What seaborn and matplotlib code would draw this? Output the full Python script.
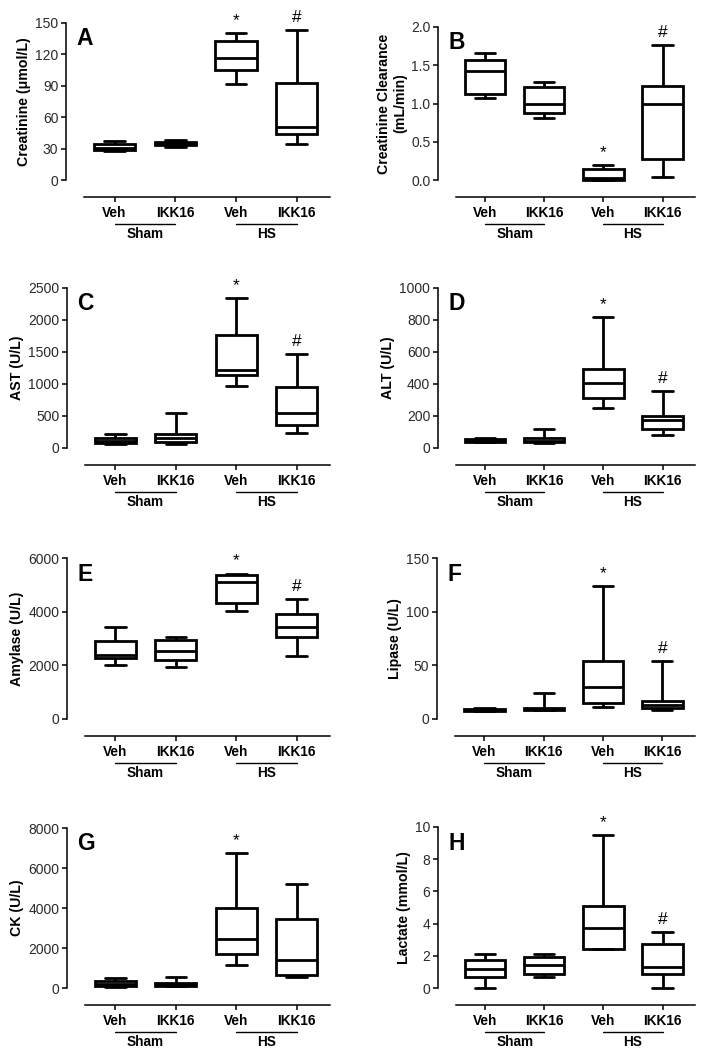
import numpy as np
import pandas as pd
import matplotlib
matplotlib.use("Agg")
import matplotlib.pyplot as plt
from matplotlib.ticker import FormatStrFormatter
from matplotlib.transforms import offset_copy
import seaborn as sns

# categories on the x axis and the two group labels underneath
treatments = ["Veh", "IKK16", "Veh", "IKK16"]
groups = ["Sham", "HS"]

# each box as (min, q1, median, q3, max)
creatinine = [[28, 29, 31, 34, 37.5], [32, 33, 35, 36.5, 38],
              [92, 105.5, 116.5, 133, 140.5], [34, 43.5, 51, 93, 143]]
clearance = [[1.07, 1.13, 1.43, 1.57, 1.66], [0.81, 0.88, 0.99, 1.22, 1.28],
             [0.0, 0.0, 0.03, 0.14, 0.2], [0.04, 0.27, 0.99, 1.23, 1.77]]
ast = [[60, 80, 105, 155, 225], [65, 90, 155, 225, 550],
       [975, 1135, 1220, 1770, 2345], [235, 365, 545, 950, 1470]]
alt = [[35, 40, 46, 55, 62], [30, 35, 45, 60, 118],
       [250, 315, 405, 495, 820], [80, 120, 175, 200, 358]]
amylase = [[2030, 2255, 2400, 2910, 3430], [1920, 2190, 2530, 2940, 3040],
           [4030, 4340, 5100, 5380, 5420], [2340, 3050, 3420, 3900, 4490]]
lipase = [[7, 7.7, 8.5, 9.5, 10.5], [8.3, 8.7, 9.3, 10.5, 24],
          [11.5, 15, 30, 54, 123.5], [8, 10, 13.5, 17, 54]]
ck = [[65, 100, 215, 365, 500], [80, 115, 200, 250, 550],
      [1160, 1725, 2440, 4000, 6755], [550, 645, 1395, 3450, 5180]]
lactate = [[0, 0.68, 1.15, 1.72, 2.1], [0.68, 0.85, 1.45, 1.9, 2.1],
           [2.42, 2.42, 3.7, 5.07, 9.5], [0.02, 0.85, 1.3, 2.73, 3.5]]

# significance marks above each box
marks_std = ["", "", "*", "#"]
marks_ck = ["", "", "*", ""]

sns.set_style("ticks")
plt.rcParams["font.family"] = ["Liberation Sans", "DejaVu Sans"]
plt.rcParams["text.color"] = "black"
plt.rcParams["axes.labelcolor"] = "black"
plt.rcParams["axes.edgecolor"] = "black"
plt.rcParams["xtick.color"] = "black"
plt.rcParams["ytick.color"] = "black"

W, H = 719, 1057
fig = plt.figure(figsize=(W / 100, H / 100), dpi=100)


def rect(left, right, top, bottom):
    return [left / W, 1 - bottom / H, (right - left) / W, (bottom - top) / H]


def draw_panel(r, letter, ylabel, values, ymax, ystep, marks, fmt):
    ax = fig.add_axes(r)
    df = pd.DataFrame({"pos": np.repeat(np.arange(4), 5),
                       "val": np.concatenate(values)})
    sns.boxplot(data=df, x="pos", y="val", whis=(0, 100), width=0.68,
                color="white", linecolor="black", linewidth=2.0,
                fliersize=0, ax=ax)
    for art in ax.patches + ax.lines:
        art.set_clip_on(False)

    sns.despine(ax=ax)
    for s in ("left", "bottom"):
        ax.spines[s].set_linewidth(1.1)
    ax.spines["bottom"].set_position(("outward", 12.2))
    ax.spines["bottom"].set_bounds(-0.5, 3.55)
    ax.spines["left"].set_bounds(0, ymax)

    ax.set_yticks(np.arange(0, ymax + ystep / 2, ystep))
    ax.yaxis.set_major_formatter(FormatStrFormatter(fmt))
    ax.tick_params(axis="y", labelsize=10, length=3.5, width=1.1,
                   pad=2, labelcolor="#2a2a2a")
    ax.set_xticks(range(4))
    ax.set_xticklabels(treatments, fontweight="bold", fontsize=9.8)
    ax.tick_params(axis="x", length=3.5, width=1.1, pad=3)
    ax.set_xlabel("")
    ax.set_ylabel(ylabel, fontweight="bold", fontsize=10.2, labelpad=3)

    ax.text(0.04, 0.9, letter, transform=ax.transAxes, fontsize=16.5,
            fontweight="bold", va="center", ha="left")

    for i, m in enumerate(marks):
        if m:
            ax.annotate(m, (i, values[i][4]), xytext=(0, 9),
                        textcoords="offset points", ha="center", va="center",
                        fontsize=12.5, annotation_clip=False)

    line_tr = offset_copy(ax.get_xaxis_transform(), fig=fig, y=-44, units="dots")
    text_tr = offset_copy(ax.get_xaxis_transform(), fig=fig, y=-54, units="dots")
    for g, name in enumerate(groups):
        ax.plot([2 * g, 2 * g + 1], [0, 0], transform=line_tr, color="black",
                lw=1, clip_on=False)
        ax.text(2 * g + 0.5, 0, name, transform=text_tr, ha="center",
                va="center", fontweight="bold", fontsize=9.8)

    ax.set_xlim(-0.8, 3.55)
    ax.set_ylim(0, ymax)
    return ax


draw_panel(rect(66, 330, 23, 180), "A", "Creatinine (\u03bcmol/L)",
           creatinine, 150, 30, marks_std, "%d")
draw_panel(rect(438, 695, 27, 180), "B", "Creatinine Clearance\n(mL/min)",
           clearance, 2.0, 0.5, marks_std, "%.1f")
draw_panel(rect(67, 330, 288, 448), "C", "AST (U/L)",
           ast, 2500, 500, marks_std, "%d")
draw_panel(rect(438, 695, 288, 448), "D", "ALT (U/L)",
           alt, 1000, 200, marks_std, "%d")
draw_panel(rect(67, 330, 558, 719), "E", "Amylase (U/L)",
           amylase, 6000, 2000, marks_std, "%d")
draw_panel(rect(437, 695, 558, 719), "F", "Lipase (U/L)",
           lipase, 150, 50, marks_std, "%d")
draw_panel(rect(67, 330, 828, 988), "G", "CK (U/L)",
           ck, 8000, 2000, marks_ck, "%d")
draw_panel(rect(438, 695, 827, 988), "H", "Lactate (mmol/L)",
           lactate, 10, 2, marks_std, "%d")

fig.savefig("out.png", dpi=100)
